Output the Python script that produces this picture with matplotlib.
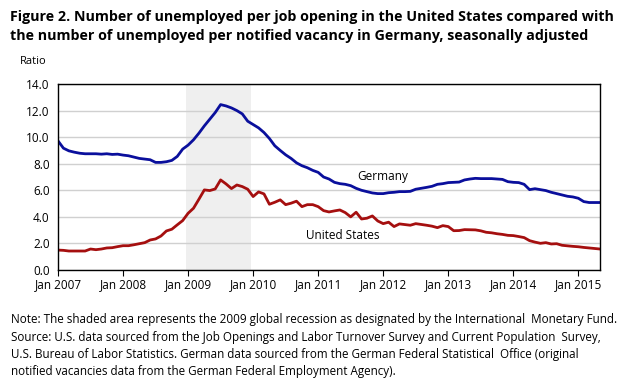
import matplotlib.pyplot as plt
import numpy as np

# monthly values, Jan 2007 .. May 2015
germany = [9.72, 9.17, 8.97, 8.87, 8.79, 8.75, 8.75, 8.75, 8.72, 8.75, 8.7, 8.72,
           8.65, 8.6, 8.5, 8.4, 8.35, 8.3, 8.1, 8.1, 8.15, 8.25, 8.55, 9.1,
           9.4, 9.8, 10.3, 10.85, 11.35, 11.85, 12.45, 12.35, 12.2, 12.0, 11.75, 11.2,
           10.95, 10.7, 10.35, 9.9, 9.35, 9.0, 8.67, 8.4, 8.07, 7.85, 7.7, 7.5,
           7.35, 7.0, 6.85, 6.6, 6.5, 6.45, 6.35, 6.15, 6.0, 5.9, 5.8, 5.75,
           5.75, 5.82, 5.85, 5.9, 5.9, 5.92, 6.08, 6.15, 6.22, 6.3, 6.45, 6.5,
           6.58, 6.6, 6.62, 6.78, 6.85, 6.9, 6.88, 6.88, 6.88, 6.85, 6.82, 6.65,
           6.6, 6.58, 6.45, 6.05, 6.12, 6.05, 5.98, 5.85, 5.75, 5.65, 5.55, 5.5,
           5.4, 5.15, 5.08, 5.08, 5.08]
united_states = [1.5, 1.48, 1.43, 1.43, 1.43, 1.43, 1.58, 1.53, 1.58, 1.66, 1.68, 1.76,
                 1.83, 1.83, 1.9, 1.98, 2.06, 2.26, 2.34, 2.56, 2.94, 3.07, 3.4, 3.72,
                 4.27, 4.65, 5.33, 6.03, 5.98, 6.1, 6.78, 6.48, 6.13, 6.4, 6.28, 6.08,
                 5.53, 5.88, 5.73, 4.95, 5.1, 5.28, 4.92, 5.03, 5.18, 4.77, 4.92, 4.92,
                 4.77, 4.47, 4.37, 4.45, 4.52, 4.32, 4.0, 4.35, 3.84, 3.9, 4.07, 3.69,
                 3.49, 3.6, 3.27, 3.47, 3.42, 3.37, 3.49, 3.43, 3.37, 3.3, 3.19, 3.34,
                 3.27, 2.96, 2.97, 3.04, 3.03, 3.02, 2.95, 2.84, 2.8, 2.73, 2.68, 2.61,
                 2.59, 2.52, 2.44, 2.21, 2.1, 2.01, 2.06, 1.96, 1.98, 1.86, 1.82, 1.78,
                 1.75, 1.7, 1.66, 1.62, 1.58]
years = list(range(2007, 2016))
tick_labels = ["Jan %d" % y for y in years]
recession = (23.6, 35.6)  # shaded months

months = np.arange(len(germany))

plt.rcParams['font.family'] = ['Open Sans', 'DejaVu Sans']

fig = plt.figure(figsize=(6.34, 3.81), dpi=100)
ax = fig.add_axes([0.0915, 0.2913, 0.8549, 0.4882])

ax.axvspan(recession[0], recession[1], color="#efefef", lw=0, zorder=0)
ax.plot(months, germany, color="#0a0f9c", lw=2)
ax.plot(months, united_states, color="#a50f0f", lw=2)

ax.set_xlim(0, 100)
ax.set_ylim(0, 14)
ax.set_yticks(np.arange(0, 15, 2))
ax.set_yticklabels(["%.1f" % v for v in np.arange(0, 15, 2)], fontsize=8.5)
ax.set_xticks([12 * i for i in range(len(years))])
ax.set_xticklabels(tick_labels, fontsize=8.5)
ax.tick_params(axis='y', length=0, pad=6)
ax.tick_params(axis='x', length=4, direction='out', pad=2)
ax.grid(axis='y', color="#d0d0d0", lw=1)
ax.set_axisbelow(True)
for s in ax.spines.values():
    s.set_linewidth(1)

ax.text(55.2, 7.07, "Germany", fontsize=8.5, va='center')
ax.text(45.8, 2.6, "United States", fontsize=8.5, va='center')

fig.text(10 / 634, 1 - 10 / 381,
         "Figure 2. Number of unemployed per job opening in the United States compared with\n"
         "the number of unemployed per notified vacancy in Germany, seasonally adjusted",
         fontsize=10.25, fontweight='bold', va='top', ha='left', linespacing=1.45)
fig.text(20 / 634, 1 - 62 / 381, "Ratio", fontsize=8, va='center')

fig.text(11 / 634, 1 - 313 / 381,
         "Note: The shaded area represents the 2009 global recession as designated by the International  Monetary Fund.\n"
         "Source: U.S. data sourced from the Job Openings and Labor Turnover Survey and Current Population  Survey,\n"
         "U.S. Bureau of Labor Statistics. German data sourced from the German Federal Statistical  Office (original\n"
         "notified vacancies data from the German Federal Employment Agency).",
         fontsize=8.35, va='top', ha='left', linespacing=1.45)

fig.savefig("out.png", dpi=100)
